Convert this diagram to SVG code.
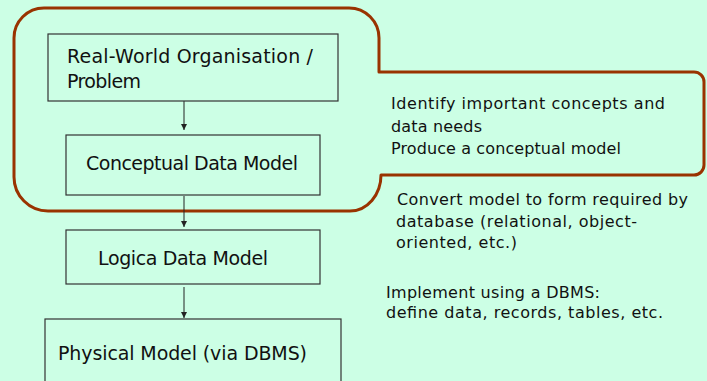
<svg xmlns="http://www.w3.org/2000/svg" width="707" height="381" viewBox="0 0 707 381">
  <defs>
    <style>
      .bg { fill: #CCFFE5; }
      .box { fill: none; stroke: #333333; stroke-width: 1.2; }
      .scope { fill: none; stroke: #993300; stroke-width: 3; stroke-linejoin: round; }
      .link { fill: none; stroke: #222222; stroke-width: 1; }
      .lbl { font-family: "Comic Sans MS", "DejaVu Sans", "Noto Sans", sans-serif; fill: #111111; }
      .big { font-size: 19px; }
      .note { font-size: 16px; }
    </style>
    <marker id="tip" viewBox="0 0 8 8" refX="8" refY="4" markerWidth="6" markerHeight="6" orient="auto" markerUnits="userSpaceOnUse">
      <path d="M0,0 L8,4 L0,8 Z" fill="#222222"/>
    </marker>
  </defs>

  <rect class="bg" x="0" y="0" width="707" height="381"/>

  <!-- scope outline around the conceptual stage -->
  <path id="scope" class="scope" d="M44,8 L349,8 A30,30 0 0 1 379,38 L379,72 L694,72 A10,10 0 0 1 704,82 L704,165 A10,10 0 0 1 694,175 L381,175 A31,36 0 0 1 350,211 L48,211 A34,34 0 0 1 14,177 L14,38 A30,30 0 0 1 44,8 Z"/>

  <g id="connectors">
    <line class="link" x1="184" y1="101" x2="184" y2="130" marker-end="url(#tip)"/>
    <line class="link" x1="184" y1="196" x2="184" y2="227" marker-end="url(#tip)"/>
    <line class="link" x1="184" y1="287" x2="184" y2="318" marker-end="url(#tip)"/>
  </g>

  <g id="real-world">
    <rect class="box" x="48" y="34" width="290" height="67"/>
    <text class="lbl big" x="67" y="63" textLength="246">Real-World Organisation /</text>
    <text class="lbl big" x="67" y="88" textLength="74">Problem</text>
  </g>

  <g id="conceptual">
    <rect class="box" x="66" y="135" width="254" height="60"/>
    <text class="lbl big" x="86" y="170" textLength="212">Conceptual Data Model</text>
  </g>

  <g id="logical">
    <rect class="box" x="66" y="230" width="254" height="54"/>
    <text class="lbl big" x="98" y="265" textLength="170">Logica Data Model</text>
  </g>

  <g id="physical">
    <rect class="box" x="45" y="319" width="296" height="70"/>
    <text class="lbl big" x="58" y="360" textLength="249">Physical Model (via DBMS)</text>
  </g>

  <g id="note-conceptual">
    <text class="lbl note" x="391" y="109" textLength="274">Identify important concepts and</text>
    <text class="lbl note" x="391" y="132" textLength="91">data needs</text>
    <text class="lbl note" x="391" y="154" textLength="230">Produce a conceptual model</text>
  </g>

  <g id="note-logical">
    <text class="lbl note" x="397" y="205" textLength="291">Convert model to form required by</text>
    <text class="lbl note" x="396" y="227" textLength="241">database (relational, object-</text>
    <text class="lbl note" x="396" y="248" textLength="121">oriented, etc.)</text>
  </g>

  <g id="note-physical">
    <text class="lbl note" x="386" y="298" textLength="214">Implement using a DBMS:</text>
    <text class="lbl note" x="386" y="318" textLength="277">define data, records, tables, etc.</text>
  </g>
</svg>
